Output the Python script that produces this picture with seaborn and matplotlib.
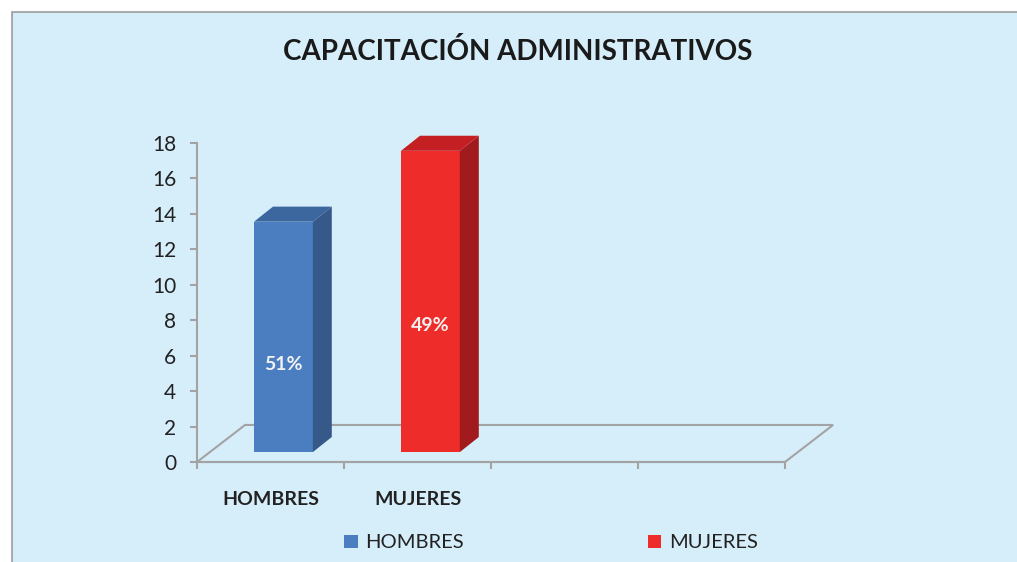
import matplotlib
matplotlib.use("Agg")
import matplotlib.pyplot as plt
import matplotlib.transforms as mtransforms
from matplotlib.patches import Rectangle, Polygon
import seaborn as sns

# ---- data ----
categories = ["HOMBRES", "MUJERES"]
values = [13, 17]
pct_labels = ["51%", "49%"]
pct_label_y = [5.5, 7.7]
n_slots = 4
yticks = list(range(0, 19, 2))
title = "CAPACITACIÓN ADMINISTRATIVOS"

front_colors = ["#4A7EC1", "#EE2D2A"]
side_colors = ["#36598A", "#A11A1D"]
top_colors = ["#3C669E", "#C42023"]
bg = "#D6EEFA"
grey = "#A3A3A3"

sns.set_theme(style="white")
plt.rcParams["font.family"] = ["Lato", "DejaVu Sans"]

W, H = 1017, 562
fig = plt.figure(figsize=(W / 100, H / 100), dpi=100, facecolor="white")
# chart frame
frame = Rectangle((12 / W, -0.01), 1.02, (H - 12) / H + 0.01,
                  transform=fig.transFigure, facecolor=bg,
                  edgecolor="#9C9C9C", lw=1.2, zorder=-10)
fig.patches.append(frame)

ax = fig.add_axes([197 / W, (H - 462) / H, (785 - 197) / W, (462 - 143) / H])
ax.set_facecolor("none")
ax.set_zorder(1)

# offsets (data units) for the pseudo-3D look
front_dx, front_dy = 0.088, 0.56
bar_dx, bar_dy = 0.129, 0.85
floor_dx, floor_dy = 0.327, 2.09

x0, x1 = -0.5, n_slots - 0.5

sns.barplot(x=categories, y=values, hue=categories, palette=front_colors,
            saturation=1, width=0.4, legend=False, ax=ax, zorder=3)

ax.set_xlim(-0.5, n_slots - 0.5)
ax.set_ylim(0, 18)

# floor
ax.add_patch(Polygon([(x0, 0), (x0 + floor_dx, floor_dy), (x1 + floor_dx, floor_dy), (x1, 0)],
                     closed=True, facecolor="none", edgecolor=grey, lw=1.5,
                     clip_on=False, zorder=1))

shift = mtransforms.Affine2D().translate(front_dx, front_dy) + ax.transData
bars = [p for p in ax.patches if type(p) is Rectangle]
for i, p in enumerate(bars):
    p.set_transform(shift)
    p.set_clip_on(False)
    p.set_linewidth(0)
    bx, bw, bh = p.get_x(), p.get_width(), p.get_height()
    r = bx + bw
    side = Polygon([(r, 0), (r + bar_dx, bar_dy), (r + bar_dx, bh + bar_dy), (r, bh)],
                   closed=True, transform=shift, facecolor=side_colors[i], lw=0,
                   clip_on=False, zorder=3)
    top = Polygon([(bx, bh), (bx + bar_dx, bh + bar_dy), (r + bar_dx, bh + bar_dy), (r, bh)],
                  closed=True, transform=shift, facecolor=top_colors[i], lw=0,
                  clip_on=False, zorder=3)
    ax.add_patch(side)
    ax.add_patch(top)
    ax.text(bx + bw / 2 + front_dx, pct_label_y[i], pct_labels[i], ha="center", va="center",
            color="#F2F2F2", fontsize=14, fontweight="bold", zorder=5)

# axes styling
for s in ["top", "right"]:
    ax.spines[s].set_visible(False)
for s in ["left", "bottom"]:
    ax.spines[s].set_color(grey)
    ax.spines[s].set_linewidth(1.5)
ax.set_yticks(yticks)
ax.set_yticklabels([str(t) for t in yticks])
ax.tick_params(axis="y", which="major", left=True, length=5, width=1.5, color=grey,
               pad=10, labelsize=15, labelcolor="#222222")
ax.set_xticks([i - 0.5 for i in range(n_slots + 1)])
ax.set_xticklabels([])
ax.tick_params(axis="x", which="major", bottom=True, length=5, width=1.5, color=grey)
ax.set_xticks(list(range(len(categories))), minor=True)
ax.set_xticklabels(categories, minor=True, fontweight="bold", fontsize=14, color="#222222")
ax.tick_params(axis="x", which="minor", length=0, pad=21)
ax.set_xlabel("")
ax.set_ylabel("")

fig.text(518 / W, 1 - 51 / H, title, ha="center", va="center", fontsize=20,
         fontweight="bold", color="#1A1A1A")

handles = [Rectangle((0, 0), 1, 1, facecolor=c, lw=0) for c in front_colors]
fig.legend(handles, categories, loc="center", bbox_to_anchor=(551 / W, 1 - 543 / H),
           ncol=2, frameon=False, fontsize=14.5, columnspacing=9.1, handlelength=0.65,
           handleheight=0.65, handletextpad=0.4, labelcolor="#222222")

fig.savefig("out.png", dpi=100, facecolor="white")
